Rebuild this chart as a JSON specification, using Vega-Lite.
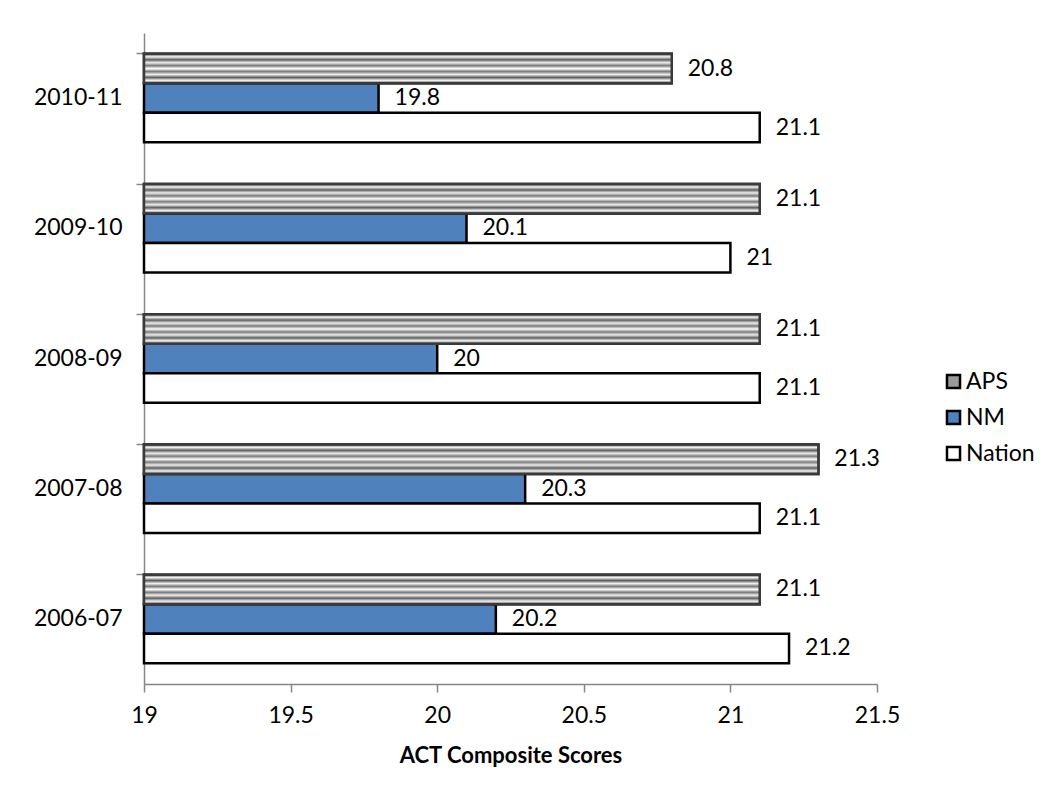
{
  "$schema": "https://vega.github.io/schema/vega-lite/v6.json",
  "width": 733,
  "height": 651,
  "autosize": {"type": "none"},
  "padding": {"left": 144, "top": 33, "right": 170, "bottom": 120},
  "background": "white",
  "config": {
    "view": {"stroke": null},
    "font": "Lato",
    "axis": {"labelFont": "Lato", "titleFont": "Lato", "labelColor": "black", "titleColor": "black", "domainColor": "#868686", "tickColor": "#868686", "domainWidth": 1.5, "tickWidth": 1.5, "grid": false}
  },
  "data": {
    "values": [
      {"year": "2010-11", "series": "APS", "score": 20.8},
      {"year": "2010-11", "series": "NM", "score": 19.8},
      {"year": "2010-11", "series": "Nation", "score": 21.1},
      {"year": "2009-10", "series": "APS", "score": 21.1},
      {"year": "2009-10", "series": "NM", "score": 20.1},
      {"year": "2009-10", "series": "Nation", "score": 21.0},
      {"year": "2008-09", "series": "APS", "score": 21.1},
      {"year": "2008-09", "series": "NM", "score": 20.0},
      {"year": "2008-09", "series": "Nation", "score": 21.1},
      {"year": "2007-08", "series": "APS", "score": 21.3},
      {"year": "2007-08", "series": "NM", "score": 20.3},
      {"year": "2007-08", "series": "Nation", "score": 21.1},
      {"year": "2006-07", "series": "APS", "score": 21.1},
      {"year": "2006-07", "series": "NM", "score": 20.2},
      {"year": "2006-07", "series": "Nation", "score": 21.2}
    ]
  },
  "encoding": {
    "y": {
      "field": "year", "type": "nominal",
      "sort": ["2010-11", "2009-10", "2008-09", "2007-08", "2006-07"],
      "scale": {"paddingInner": 0.32, "paddingOuter": 0.16},
      "axis": {"title": null, "labelFontSize": 23, "labelPadding": 14, "tickSize": 8, "bandPosition": 0, "ticks": true}
    },
    "yOffset": {"field": "series", "type": "nominal", "sort": ["APS", "NM", "Nation"], "scale": {"domain": ["APS", "NM", "Nation"], "paddingInner": 0, "paddingOuter": 0}}
  },
  "layer": [
    {
      "mark": {"type": "bar", "stroke": "black", "strokeWidth": 2.5},
      "encoding": {
        "x": {
          "field": "score", "type": "quantitative",
          "scale": {"domain": [19, 21.5], "zero": false, "nice": false},
          "axis": {"values": [19, 19.5, 20, 20.5, 21, 21.5], "format": "~g", "labelFontSize": 23, "labelPadding": 12, "tickSize": 8, "title": "ACT Composite Scores", "titleFontSize": 22, "titleFontWeight": "bold", "titlePadding": 18, "labelFlush": false}
        },
        "x2": {"datum": 19},
        "fill": {
          "field": "series", "type": "nominal",
          "scale": {"domain": ["APS", "NM", "Nation"], "range": ["#9a9a9a", "#4f81bd", "#ffffff"]},
          "legend": {"title": null, "orient": "none", "legendX": 798, "legendY": 337, "labelFontSize": 23, "symbolType": "square", "symbolSize": 170, "symbolStrokeColor": "black", "symbolStrokeWidth": 2.5, "rowPadding": 11, "labelOffset": 1}
        }
      }
    },
    {
      "transform": [{"filter": "datum.series === 'APS'"}],
      "mark": {
        "type": "bar", "stroke": "#3a3a3a", "strokeWidth": 2.5,
        "fill": {
          "gradient": "linear", "x1": 0, "y1": 0, "x2": 0, "y2": 1,
          "stops": [
            {"offset": 0.0, "color": "#4a4a4a"},
            {"offset": 0.1, "color": "#f4f4f4"},
            {"offset": 0.2, "color": "#5e5e5e"},
            {"offset": 0.3, "color": "#eeeeee"},
            {"offset": 0.4, "color": "#7a7a7a"},
            {"offset": 0.5, "color": "#ffffff"},
            {"offset": 0.6, "color": "#7a7a7a"},
            {"offset": 0.7, "color": "#eeeeee"},
            {"offset": 0.8, "color": "#5e5e5e"},
            {"offset": 0.9, "color": "#f4f4f4"},
            {"offset": 1.0, "color": "#4a4a4a"}
          ]
        }
      },
      "encoding": {
        "x": {"field": "score", "type": "quantitative"},
        "x2": {"datum": 19}
      }
    },
    {
      "mark": {"type": "text", "align": "left", "baseline": "middle", "dx": 16, "fontSize": 23, "color": "black"},
      "encoding": {
        "x": {"field": "score", "type": "quantitative"},
        "text": {"field": "score", "type": "quantitative"}
      }
    }
  ]
}
